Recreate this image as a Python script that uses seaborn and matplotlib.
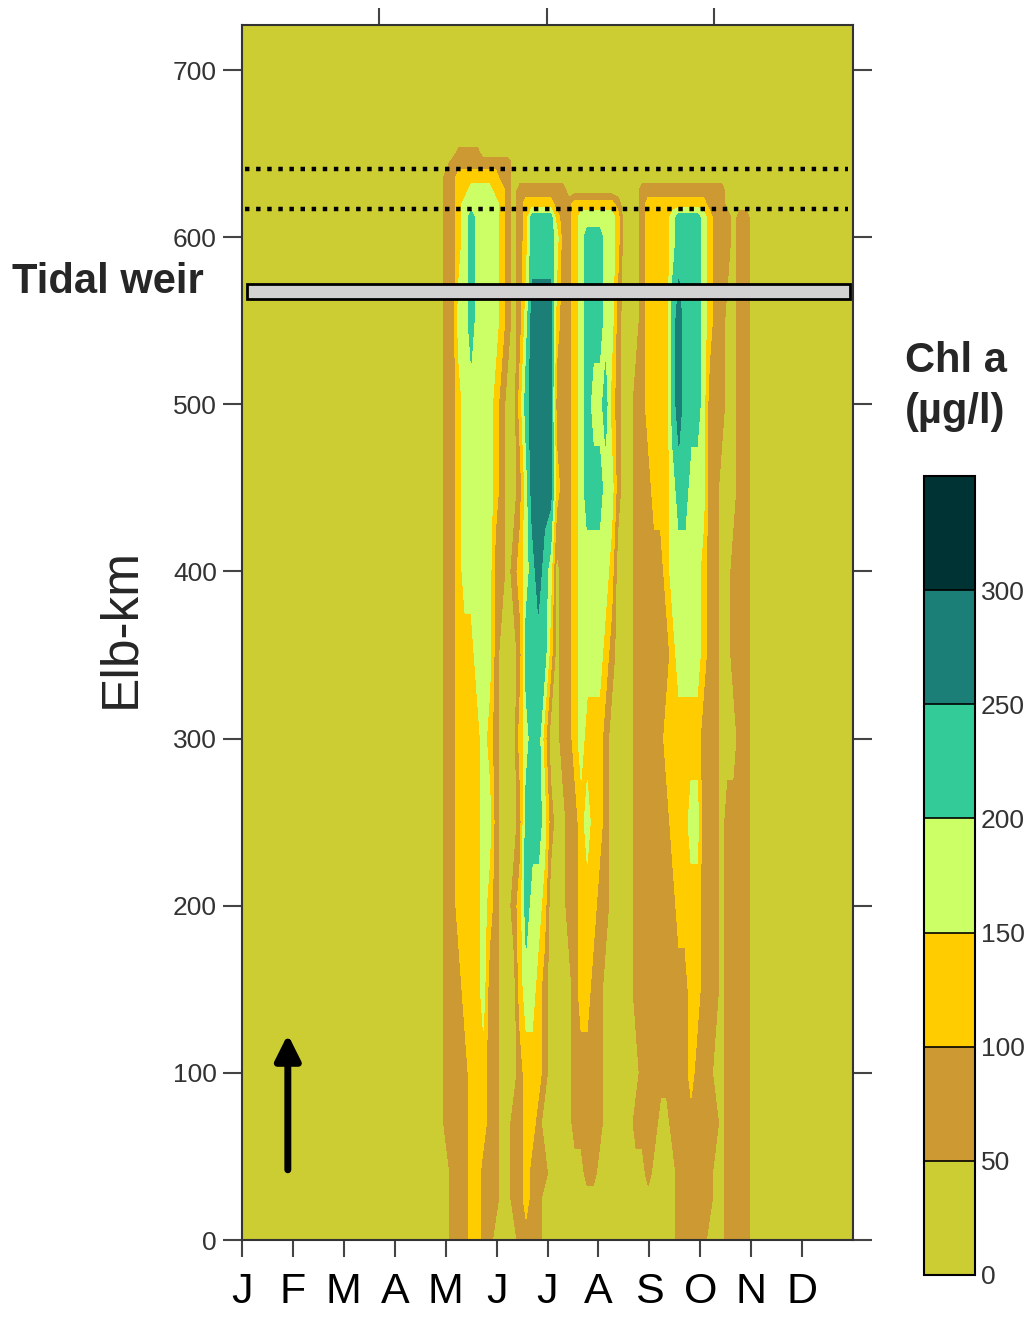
import numpy as np
import matplotlib
matplotlib.use("Agg")
import matplotlib.pyplot as plt
import seaborn as sns
from matplotlib.colors import ListedColormap, BoundaryNorm
from matplotlib.patches import Rectangle

# ---------------- data ----------------
month_labels = ["J", "F", "M", "A", "M", "J", "J", "A", "S", "O", "N", "D"]
top_tick_months = [2.69, 5.99, 9.27]

# sampling times (months since 1 Jan) of the Chl a field
months = [0.0,
          3.90, 4.02, 4.14, 4.26, 4.38, 4.50, 4.62, 4.74, 4.86, 4.98,
          5.10, 5.22, 5.34, 5.46, 5.58, 5.70, 5.82, 5.94, 6.06, 6.18,
          6.30, 6.42, 6.54, 6.66, 6.78, 6.90, 7.02, 7.14, 7.26, 7.38,
          7.50, 7.62, 7.74, 7.86, 7.98, 8.10, 8.22, 8.34, 8.46, 8.58,
          8.70, 8.82, 8.94, 9.06, 9.18, 9.30, 9.42, 9.54, 9.66, 9.78,
          9.90, 10.02, 10.14, 10.26,
          12.0]

# Elbe kilometre of each row of the field
elb_km = [0, 25, 40, 70, 100, 150, 200, 250, 300, 350, 400, 450, 500,
          550, 600, 612, 620, 628, 636, 645, 650, 658, 730]

# Chl a (ug/l) along each kilometre row (one value per sampling time)
chl_km000 = [25, 25,25,75,75,75,125,125,75,75,25, 25,25,25,75,75,75,75,25,25,25, 25,25,25,25,25,25,25,25,25,25, 25,25,25,25,25,25,25,25,25,75, 75,75,75,75,25,25,25,75,75,75, 75,25,25,25, 25]
chl_km025 = [25, 25,25,75,75,75,125,125,75,75,75, 25,25,75,75,125,75,75,25,25,25, 25,25,25,25,25,25,25,25,25,25, 25,25,25,25,25,25,25,25,25,75, 75,75,75,75,75,25,25,75,75,75, 75,25,25,25, 25]
chl_km040 = [25, 25,25,75,75,75,125,125,75,75,75, 25,25,75,75,125,75,75,75,25,25, 25,25,25,25,75,75,25,25,25,25, 25,25,25,25,75,25,25,25,25,75, 75,75,75,75,75,25,25,75,75,75, 75,25,25,25, 25]
chl_km070 = [25, 25,75,75,75,75,125,125,125,75,75, 25,25,75,75,125,125,75,25,25,25, 25,25,75,75,75,75,75,25,25,25, 25,25,75,75,75,75,25,25,75,75, 75,75,75,75,75,75,25,75,75,75, 75,25,25,25, 25]
chl_km100 = [25, 25,75,75,75,75,125,125,125,75,75, 25,25,25,75,125,125,125,75,25,25, 25,25,75,75,75,75,75,25,25,25, 25,25,25,75,75,75,75,75,75,75, 75,125,75,75,75,25,25,75,75,75, 75,25,25,25, 25]
chl_km150 = [25, 25,75,75,75,125,125,125,175,75,75, 25,25,25,125,175,175,125,75,25,25, 25,25,75,125,125,75,75,25,25,25, 25,25,75,75,75,75,75,75,75,75, 75,125,125,75,75,75,25,75,75,75, 75,25,25,25, 25]
chl_km200 = [25, 25,75,75,125,125,125,125,175,125,75, 25,25,75,125,225,175,175,125,25,25, 25,75,75,125,125,125,75,75,25,25, 25,25,75,75,75,75,75,75,75,125, 125,125,125,75,75,75,25,75,75,75, 75,25,25,25, 25]
chl_km250 = [25, 25,75,75,125,125,125,125,175,175,75, 25,25,25,75,225,225,225,175,75,25, 25,75,75,125,175,125,125,75,25,25, 25,25,75,75,75,75,75,75,125,125, 125,175,175,75,75,75,25,75,75,75, 75,25,25,25, 25]
chl_km300 = [25, 25,75,75,125,125,125,125,175,125,75, 25,25,25,125,175,225,225,125,25,25, 75,75,125,175,125,125,125,75,25,25, 25,25,75,75,75,75,75,125,125,125, 125,125,125,75,75,75,25,25,25,75, 75,25,25,25, 25]
chl_km350 = [25, 25,75,75,125,125,125,175,175,175,75, 25,25,25,75,225,225,225,225,125,25, 75,75,125,175,175,175,175,125,75,25, 25,25,75,75,75,75,75,75,125,175, 175,175,175,125,75,75,25,25,75,75, 75,25,25,25, 25]
chl_km400 = [25, 25,75,75,125,175,175,175,175,175,75, 75,25,75,125,175,225,275,225,175,25, 75,75,125,175,175,175,175,175,125,25, 25,25,75,75,75,75,75,125,175,175, 175,175,175,125,75,75,25,25,75,75, 75,25,25,25, 25]
chl_km450 = [25, 25,75,75,125,175,175,175,175,175,125, 75,25,25,75,175,275,275,275,275,125, 75,75,125,175,225,225,225,175,175,75, 25,25,75,75,75,125,125,125,175,225, 225,175,175,175,75,75,25,25,25,75, 75,25,25,25, 25]
chl_km500 = [25, 25,75,75,125,175,175,175,175,175,125, 75,25,25,125,225,275,275,275,275,75, 75,75,125,175,225,175,175,225,125,75, 25,25,75,75,125,125,125,125,225,275, 225,225,225,175,75,75,75,25,25,75, 75,25,25,25, 25]
chl_km550 = [25, 25,75,75,175,175,225,175,175,175,175, 125,75,25,75,175,275,275,275,275,125, 75,75,125,175,225,225,225,175,175,75, 25,25,25,75,125,125,125,125,225,275, 225,225,225,175,125,75,75,25,25,75, 75,25,25,25, 25]
chl_km600 = [25, 25,75,75,125,175,225,175,175,175,175, 125,75,25,75,125,225,225,225,225,175, 75,75,125,175,225,225,225,175,175,125, 25,25,25,75,125,125,125,125,175,225, 225,225,225,175,125,75,75,75,25,75, 75,25,25,25, 25]
chl_km612 = [25, 25,75,75,125,175,225,175,175,175,175, 125,75,25,75,125,225,225,225,225,125, 75,75,125,175,175,175,175,175,175,125, 25,25,25,75,125,125,125,125,175,225, 225,225,225,175,125,75,75,75,25,75, 75,25,25,25, 25]
chl_km620 = [25, 25,75,75,125,175,175,175,175,175,175, 125,75,25,75,125,125,125,125,125,75, 75,75,125,125,125,125,125,125,125,75, 25,25,25,75,125,125,125,125,125,125, 125,125,125,125,75,75,75,25,25,25, 25,25,25,25, 25]
chl_km628 = [25, 25,75,75,125,125,175,175,175,175,125, 125,75,25,75,75,75,75,75,75,75, 75,25,25,25,25,25,25,25,25,25, 25,25,25,75,75,75,75,75,75,75, 75,75,75,75,75,75,75,25,25,25, 25,25,25,25, 25]
chl_km636 = [25, 25,75,75,125,125,125,125,125,125,125, 75,75,25,25,25,25,25,25,25,25, 25,25,25,25,25,25,25,25,25,25, 25,25,25,25,25,25,25,25,25,25, 25,25,25,25,25,25,25,25,25,25, 25,25,25,25, 25]
chl_km645 = [25, 25,25,75,75,75,75,75,75,75,75, 75,75,25,25,25,25,25,25,25,25, 25,25,25,25,25,25,25,25,25,25, 25,25,25,25,25,25,25,25,25,25, 25,25,25,25,25,25,25,25,25,25, 25,25,25,25, 25]
chl_km650 = [25, 25,25,25,75,75,75,75,25,25,25, 25,25,25,25,25,25,25,25,25,25, 25,25,25,25,25,25,25,25,25,25, 25,25,25,25,25,25,25,25,25,25, 25,25,25,25,25,25,25,25,25,25, 25,25,25,25, 25]
chl_km658 = [25, 25,25,25,25,25,25,25,25,25,25, 25,25,25,25,25,25,25,25,25,25, 25,25,25,25,25,25,25,25,25,25, 25,25,25,25,25,25,25,25,25,25, 25,25,25,25,25,25,25,25,25,25, 25,25,25,25, 25]
chl_km730 = [25, 25,25,25,25,25,25,25,25,25,25, 25,25,25,25,25,25,25,25,25,25, 25,25,25,25,25,25,25,25,25,25, 25,25,25,25,25,25,25,25,25,25, 25,25,25,25,25,25,25,25,25,25, 25,25,25,25, 25]

chl_levels = [0, 50, 100, 150, 200, 250, 300, 350]
chl_colors = ["#CCCC33", "#CC9933", "#FFCC00", "#CCFF66",
              "#33CC99", "#1B7F77", "#003333"]

weir_km = [563, 572]
weir_months = [0.10, 11.94]
dotted_km = [617, 641]
dotted_months = [0.06, 11.90]
arrow_month = 0.90
arrow_km = [42, 123]

# ---------------- figure ----------------
sns.set_theme(style="white")
plt.rcParams["font.family"] = ["Liberation Sans", "DejaVu Sans"]

W, H = 1031, 1319
fig = plt.figure(figsize=(W / 100, H / 100), dpi=100)
ax = fig.add_axes([242 / W, 1 - 1240 / H, (853 - 242) / W, (1240 - 25) / H])
cax = fig.add_axes([924 / W, 1 - 1275 / H, (975 - 924) / W, (1275 - 476) / H])

grid = np.array([chl_km000, chl_km025, chl_km040, chl_km070, chl_km100,
                 chl_km150, chl_km200, chl_km250, chl_km300, chl_km350,
                 chl_km400, chl_km450, chl_km500, chl_km550, chl_km600,
                 chl_km612, chl_km620, chl_km628, chl_km636, chl_km645,
                 chl_km650, chl_km658, chl_km730], dtype=float)

cmap = ListedColormap(sns.color_palette(chl_colors))
norm = BoundaryNorm(chl_levels, cmap.N)
cs = ax.contourf(months, elb_km, grid, levels=chl_levels, cmap=cmap, norm=norm)

ax.set_xlim(0, 12)
ax.set_ylim(0, 727)

# weir bar
ax.add_patch(Rectangle((weir_months[0], weir_km[0]), weir_months[1] - weir_months[0],
                       weir_km[1] - weir_km[0], facecolor="#D2D2D2",
                       edgecolor="black", lw=2, zorder=5))
# dotted lines
ax.hlines(dotted_km, dotted_months[0], dotted_months[1], colors="black",
          linestyles=(0, (1, 1.5)), lw=3.2, zorder=6)
# arrow
ax.annotate("", xy=(arrow_month, arrow_km[1]), xytext=(arrow_month, arrow_km[0]),
            arrowprops=dict(arrowstyle="-|>", color="black", lw=5,
                            mutation_scale=38, shrinkA=0, shrinkB=0), zorder=7)

# ticks
ax.set_xticks(range(12))
ax.set_xticklabels(month_labels, fontsize=31, color="black")
ax.set_yticks(range(0, 701, 100))
ax.set_yticklabels([str(v) for v in range(0, 701, 100)], fontsize=19, color="#333333")
ax.tick_params(axis="x", direction="out", length=12, width=1.5, color="#444444",
               pad=11, bottom=True)
ax.tick_params(axis="y", direction="out", length=14, width=1.5, color="#444444",
               pad=4, left=True, right=True, labelright=False)
top = ax.secondary_xaxis("top")
top.set_xticks(top_tick_months)
top.set_xticklabels([])
top.tick_params(direction="out", length=12, width=1.5, color="#444444")
top.spines["top"].set_visible(False)
for s in ax.spines.values():
    s.set_color("#333333")
    s.set_linewidth(1.5)

# colorbar
cb = fig.colorbar(cs, cax=cax, ticks=chl_levels[:-1], drawedges=True)
cb.outline.set_linewidth(1.5)
cb.outline.set_edgecolor("black")
cb.dividers.set_linewidth(1.2)
cb.dividers.set_color("black")
cax.minorticks_off()
cax.tick_params(which="both", length=0, labelsize=19, pad=4, labelcolor="#333333")

# texts
fig.text(12 / W, 1 - 282 / H, "Tidal weir", fontsize=30, fontweight="bold",
         ha="left", va="center")
fig.text(905 / W, 1 - 361 / H, "Chl a", fontsize=30, fontweight="bold",
         ha="left", va="center")
fig.text(905 / W, 1 - 412 / H, "(\u00b5g/l)", fontsize=30, fontweight="bold",
         ha="left", va="center")
fig.text(121 / W, 1 - 628 / H, "Elb-km", fontsize=37, rotation=90,
         ha="center", va="center")

fig.savefig("out.png", dpi=100, facecolor="white")
